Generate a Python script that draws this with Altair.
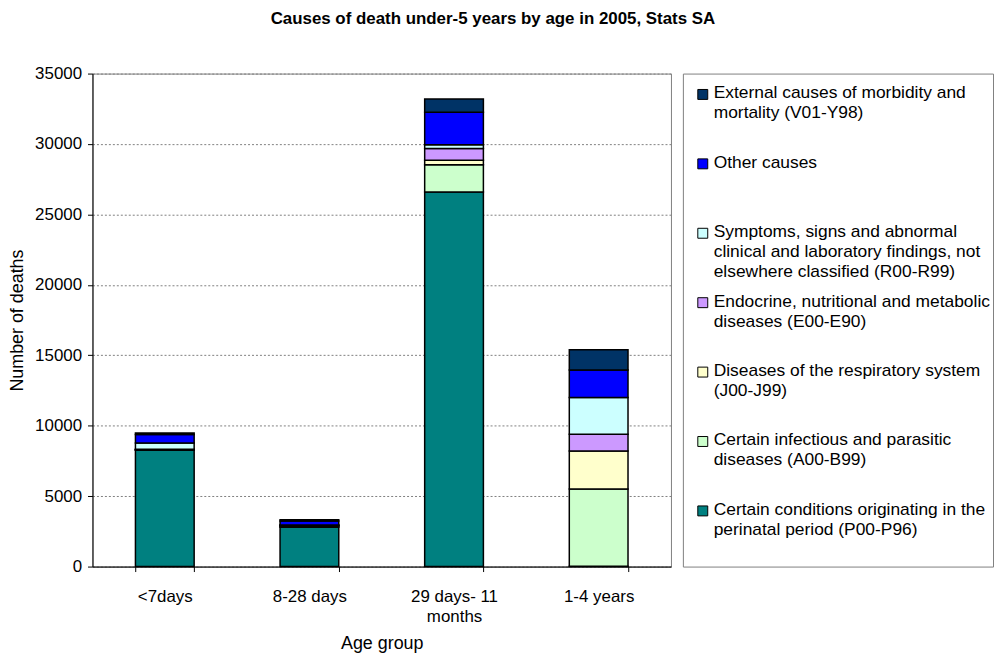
import altair as alt
import pandas as pd

FONT = "Liberation Sans"

ages = ["<7days", "8-28 days", "29 days- 11 months", "1-4 years"]

# causes listed bottom of stack -> top of stack
causes = [
    "Certain conditions originating in the perinatal period (P00-P96)",
    "Certain infectious and parasitic diseases (A00-B99)",
    "Diseases of the respiratory system (J00-J99)",
    "Endocrine, nutritional and metabolic diseases (E00-E90)",
    "Symptoms, signs and abnormal clinical and laboratory findings, not elsewhere classified (R00-R99)",
    "Other causes",
    "External causes of morbidity and mortality (V01-Y98)",
]
legend_labels = [
    "Certain conditions originating in the\nperinatal period (P00-P96)",
    "Certain infectious and parasitic\ndiseases (A00-B99)",
    "Diseases of the respiratory system\n(J00-J99)",
    "Endocrine, nutritional and metabolic\ndiseases (E00-E90)",
    "Symptoms, signs and abnormal\nclinical and laboratory findings, not\nelsewhere classified (R00-R99)",
    "Other causes",
    "External causes of morbidity and\nmortality (V01-Y98)",
]
colors = ["#008080", "#CCFFCC", "#FFFFCC", "#CC99FF", "#CCFFFF", "#0000FF", "#003366"]

perinatal = [8250, 2800, 26600, 20]
infectious = [30, 60, 1920, 5480]
respiratory = [30, 50, 320, 2700]
endocrine = [20, 20, 840, 1200]
symptoms = [440, 30, 270, 2600]
other = [610, 270, 2300, 1950]
external = [100, 90, 950, 1450]

series = [perinatal, infectious, respiratory, endocrine, symptoms, other, external]

rows = []
for ci, (cause, vals) in enumerate(zip(causes, series)):
    for age, v in zip(ages, vals):
        rows.append({"age": age, "cause": cause, "value": v, "idx": ci})
df = pd.DataFrame(rows)

color_scale = alt.Scale(domain=causes, range=colors)

bars = alt.Chart(df).mark_bar(stroke="black", strokeWidth=1.5).encode(
    x=alt.X(
        "age:N",
        sort=ages,
        title="Age group",
        scale=alt.Scale(paddingInner=0.594, paddingOuter=0.297),
        axis=alt.Axis(
            labelAngle=0,
            tickBand="extent",
            labelExpr="datum.label == '29 days- 11 months' ? ['29 days- 11', 'months'] : datum.label",
            labelLineHeight=20,
            labelFontSize=17,
            labelPadding=17,
            labelColor="black",
            tickSize=5,
            tickColor="black",
            domainColor="black",
            titleFontSize=18,
            titleFontWeight="normal",
            titleColor="black",
            titlePadding=10,
            grid=False,
        ),
    ),
    y=alt.Y(
        "value:Q",
        stack="zero",
        title="Number of deaths",
        scale=alt.Scale(domain=[0, 35000], nice=False),
        axis=alt.Axis(
            values=list(range(0, 35001, 5000)),
            format="d",
            labelFontSize=17,
            labelPadding=6,
            labelColor="black",
            tickSize=5,
            tickColor="black",
            domainColor="black",
            titleFontSize=18,
            titleFontWeight="normal",
            titleColor="black",
            titlePadding=8,
            grid=True,
            gridColor="#808080",
            gridDash=[2, 2],
            gridWidth=1,
        ),
    ),
    color=alt.Color("cause:N", scale=color_scale, legend=None),
    order=alt.Order("idx:Q", sort="ascending"),
).properties(width=582, height=496)

leg_df = pd.DataFrame({"cause": causes, "label": legend_labels, "idx": list(range(len(causes)))})

leg_base = alt.Chart(leg_df).encode(
    y=alt.Y("idx:O", sort="descending", axis=None,
            scale=alt.Scale(type="point", range=[21, 440], padding=0))
)
leg_sym = leg_base.mark_square(size=100, stroke="black", strokeWidth=1, opacity=1).encode(
    x=alt.value(20),
    color=alt.Color("cause:N", scale=color_scale, legend=None),
)
leg_txt = leg_base.mark_text(
    align="left", baseline="top", dy=-10, fontSize=17.5, lineHeight=20,
    lineBreak="\n", font=FONT, color="black",
).encode(x=alt.value(31), text="label:N")

legend = alt.layer(leg_sym, leg_txt).properties(width=312, height=496)

chart = alt.hconcat(bars, legend, spacing=10).properties(
    title=alt.TitleParams(
        "Causes of death under-5 years by age in 2005, Stats SA",
        fontSize=17, fontWeight="bold", font=FONT, color="black",
        anchor="middle", offset=36, dx=-8,
    ),
    padding={"left": 0, "top": 0, "right": 0, "bottom": 0},
).configure(font=FONT).configure_view(stroke="#808080", strokeWidth=1)

chart.save("out.html", embed_options={"renderer": "svg", "actions": False})
